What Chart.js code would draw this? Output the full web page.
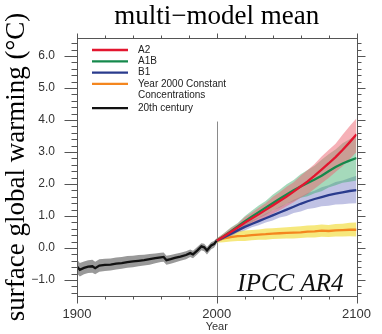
<!DOCTYPE html>
<html><head><meta charset="utf-8">
<script src="https://cdn.jsdelivr.net/npm/chart.js@4.4.1/dist/chart.umd.min.js"></script>
<style>html,body{margin:0;padding:0;background:#fff;}#wrap{width:382px;height:334px;}</style>
</head><body><div id="wrap"><canvas id="c" width="382" height="334"></canvas></div>
<script>
// ---------- data ----------
const seriesNames = ['A2', 'A1B', 'B1', ['Year 2000 Constant', 'Concentrations'], '20th century'];
const xTickLabels = [1900, 2000, 2100];
const yTickLabels = [-1, 0, 1, 2, 3, 4, 5, 6];
const chartTitle = 'multi\u2212model mean';
const yTitle = 'surface global warming (\u00B0C)';
const xTitle = 'Year';
const stampText = 'IPCC AR4';

const histYears = [1900,1902,1905,1908,1911,1913,1916,1920,1924,1928,1932,1936,1940,1944,1948,1952,1956,1960,1962,1964,1967,1970,1974,1978,1981,1983,1986,1989,1991,1993,1996,1998,2000];
const histMean = [-0.58,-0.68,-0.62,-0.58,-0.57,-0.63,-0.55,-0.53,-0.52,-0.49,-0.47,-0.44,-0.42,-0.40,-0.38,-0.35,-0.32,-0.29,-0.28,-0.38,-0.35,-0.31,-0.27,-0.22,-0.16,-0.20,-0.08,0.05,0.02,-0.08,0.08,0.12,0.23];
const histHigh = [-0.36,-0.47,-0.42,-0.38,-0.37,-0.43,-0.35,-0.34,-0.33,-0.30,-0.28,-0.25,-0.24,-0.22,-0.21,-0.19,-0.17,-0.15,-0.14,-0.24,-0.22,-0.19,-0.15,-0.10,-0.05,-0.09,0.03,0.15,0.13,0.03,0.18,0.22,0.31];
const histLow = [-0.80,-0.89,-0.82,-0.78,-0.77,-0.82,-0.74,-0.72,-0.70,-0.67,-0.65,-0.62,-0.60,-0.57,-0.55,-0.52,-0.48,-0.44,-0.43,-0.52,-0.49,-0.45,-0.40,-0.35,-0.28,-0.32,-0.20,-0.07,-0.10,-0.20,-0.04,0.01,0.14];

const futureYears = [2000,2005,2010,2015,2020,2025,2030,2035,2040,2045,2050,2055,2060,2065,2070,2075,2080,2085,2090,2095,2100];
const a2Mean = [0.23,0.36,0.50,0.64,0.79,0.92,1.05,1.19,1.33,1.47,1.61,1.76,1.92,2.08,2.26,2.45,2.64,2.84,3.06,3.30,3.55];
const a2High = [0.30,0.45,0.62,0.76,0.96,1.10,1.26,1.40,1.59,1.74,1.91,2.05,2.26,2.44,2.62,2.86,3.06,3.26,3.54,3.80,4.05];
const a2Low  = [0.16,0.27,0.39,0.50,0.62,0.73,0.84,0.96,1.07,1.18,1.30,1.43,1.57,1.69,1.85,2.02,2.19,2.37,2.55,2.77,3.00];
const a1bMean = [0.23,0.37,0.52,0.67,0.83,0.98,1.12,1.26,1.40,1.54,1.67,1.80,1.92,2.03,2.14,2.26,2.40,2.53,2.64,2.73,2.81];
const a1bHigh = [0.30,0.46,0.64,0.78,0.99,1.16,1.33,1.47,1.66,1.82,1.99,2.12,2.30,2.44,2.57,2.76,2.93,3.08,3.27,3.40,3.51];
const a1bLow  = [0.16,0.28,0.43,0.54,0.70,0.80,0.94,1.03,1.17,1.26,1.38,1.46,1.57,1.62,1.71,1.77,1.89,1.96,2.04,2.07,2.11];
const b1Mean = [0.23,0.33,0.44,0.55,0.66,0.75,0.84,0.93,1.02,1.11,1.20,1.29,1.38,1.46,1.53,1.59,1.65,1.70,1.74,1.78,1.81];
const b1High = [0.29,0.40,0.50,0.64,0.75,0.87,0.95,1.08,1.16,1.29,1.38,1.51,1.60,1.72,1.79,1.90,1.96,2.06,2.11,2.19,2.26];
const b1Low  = [0.17,0.28,0.36,0.48,0.55,0.65,0.71,0.80,0.86,0.95,1.00,1.09,1.14,1.22,1.25,1.30,1.32,1.36,1.37,1.39,1.40];
const constMean = [0.23,0.30,0.34,0.37,0.38,0.40,0.42,0.43,0.45,0.46,0.47,0.48,0.49,0.51,0.52,0.54,0.53,0.55,0.56,0.57,0.57];
const constHigh = [0.30,0.42,0.48,0.52,0.55,0.56,0.58,0.61,0.62,0.63,0.65,0.66,0.68,0.70,0.71,0.73,0.72,0.75,0.76,0.79,0.80];
const constLow  = [0.16,0.18,0.20,0.22,0.22,0.24,0.26,0.26,0.28,0.29,0.30,0.30,0.31,0.33,0.33,0.35,0.34,0.36,0.36,0.37,0.36];

const dividerYear = 2000;
const dividerTop = 3.95;

// ---------- styles ----------
const lineColors = ['#e3162f', '#15894c', '#2a3b8d', '#f4861f', '#111111'];
const bandColors = ['rgba(238,100,112,0.50)', 'rgba(55,170,105,0.45)', 'rgba(115,120,195,0.45)', 'rgba(242,222,70,0.70)', 'rgba(135,135,135,0.85)'];
const SANS = '"Liberation Sans", Arial, sans-serif';
const SERIF = '"Liberation Serif", "Times New Roman", serif';

const pts = (xs, ys) => xs.map((x, i) => ({x: x, y: ys[i]}));
function lineDs(label, xs, ys, color) {
  return {label: label, data: pts(xs, ys), borderColor: color, backgroundColor: color, borderWidth: 2.3,
          pointRadius: 0, tension: 0, fill: false, isLegend: true};
}
function bandDs(xs, ys, color, fill) {
  return {data: pts(xs, ys), borderColor: 'rgba(0,0,0,0)', backgroundColor: color, borderWidth: 0,
          pointRadius: 0, tension: 0, fill: fill};
}

const datasets = [
  lineDs(seriesNames[0], futureYears, a2Mean, lineColors[0]),
  lineDs(seriesNames[1], futureYears, a1bMean, lineColors[1]),
  lineDs(seriesNames[2], futureYears, b1Mean, lineColors[2]),
  lineDs(seriesNames[3], futureYears, constMean, lineColors[3]),
  lineDs(seriesNames[4], histYears, histMean, lineColors[4]),
  bandDs(futureYears, a2High, bandColors[0], '+1'),
  bandDs(futureYears, a2Low, bandColors[0], false),
  bandDs(futureYears, a1bHigh, bandColors[1], '+1'),
  bandDs(futureYears, a1bLow, bandColors[1], false),
  bandDs(futureYears, b1High, bandColors[2], '+1'),
  bandDs(futureYears, b1Low, bandColors[2], false),
  bandDs(futureYears, constHigh, bandColors[3], '+1'),
  bandDs(futureYears, constLow, bandColors[3], false),
  bandDs(histYears, histHigh, bandColors[4], '+1'),
  bandDs(histYears, histLow, bandColors[4], false)
];

const xMinorStep = 20, yMinorStep = 0.2;
const frameColor = '#555';

const decor = {
  id: 'decor',
  beforeDatasetsDraw(chart) {
    const {ctx, chartArea: a, scales: {x, y}} = chart;
    ctx.save();
    ctx.strokeStyle = '#8a8a8a';
    ctx.lineWidth = 1;
    const px = Math.round(x.getPixelForValue(dividerYear)) + 0.5;
    ctx.beginPath();
    ctx.moveTo(px, y.getPixelForValue(dividerTop));
    ctx.lineTo(px, a.bottom);
    ctx.stroke();
    ctx.restore();
  },
  afterDatasetsDraw(chart) {
    const {ctx, chartArea: a, scales: {x, y}} = chart;
    ctx.save();
    ctx.strokeStyle = frameColor;
    ctx.lineWidth = 1;
    const L = Math.round(a.left) + 0.5, R = Math.round(a.right) + 0.5;
    const T = Math.round(a.top) + 0.5, B = Math.round(a.bottom) + 0.5;
    ctx.strokeRect(L, T, R - L, B - T);
    ctx.beginPath();
    for (let v = x.min; v <= x.max + 1e-6; v += xMinorStep) {
      const p = Math.round(x.getPixelForValue(v)) + 0.5;
      const major = xTickLabels.includes(Math.round(v));
      ctx.moveTo(p, B); ctx.lineTo(p, B + (major ? 7 : 3));
      ctx.moveTo(p, T); ctx.lineTo(p, T - (major ? 5 : 3));
    }
    const start = Math.ceil(y.min / yMinorStep - 1e-6);
    const end = Math.floor(y.max / yMinorStep + 1e-6);
    for (let k = start; k <= end; k++) {
      const v = k * yMinorStep;
      const p = Math.round(y.getPixelForValue(v)) + 0.5;
      const major = Math.abs(v - Math.round(v)) < 1e-6;
      ctx.moveTo(L, p); ctx.lineTo(L - (major ? 13 : 6), p);
      ctx.moveTo(R, p); ctx.lineTo(R + (major ? 8 : 4), p);
    }
    ctx.stroke();
    ctx.restore();
  },
  afterDraw(chart) {
    const {ctx, chartArea: a} = chart;
    ctx.save();
    const lx0 = a.left + 15, lx1 = a.left + 51, tx = a.left + 61;
    let yy = a.top + 12;
    ctx.font = '10px ' + SANS;
    ctx.textBaseline = 'middle';
    ctx.textAlign = 'left';
    chart.data.datasets.filter(d => d.isLegend).forEach(d => {
      ctx.strokeStyle = d.borderColor;
      ctx.lineWidth = 2.3;
      ctx.beginPath(); ctx.moveTo(lx0, yy); ctx.lineTo(lx1, yy); ctx.stroke();
      ctx.fillStyle = '#222';
      const lines = Array.isArray(d.label) ? d.label : [d.label];
      lines.forEach((t, i) => ctx.fillText(t, tx, yy + i * 11));
      yy += 11.3 + (lines.length - 1) * 13;
    });
    ctx.font = 'italic 25px ' + SERIF;
    ctx.fillStyle = '#111';
    ctx.textAlign = 'right';
    ctx.textBaseline = 'alphabetic';
    ctx.fillText(stampText, a.right - 13, a.bottom - 5);
    ctx.restore();
  }
};

const fmt = v => (v < 0 ? '\u2212' : '') + Math.abs(v).toFixed(1);

new Chart(document.getElementById('c'), {
  type: 'line',
  data: {datasets: datasets},
  options: {
    responsive: false,
    devicePixelRatio: 1,
    animation: false,
    layout: {padding: {left: 0, right: 15, top: 0, bottom: 0}},
    plugins: {
      legend: {display: false},
      tooltip: {enabled: false},
      title: {display: true, text: chartTitle, fullSize: false, color: '#000',
              font: {family: SERIF, size: 27, weight: 'normal', lineHeight: 1.2},
              padding: {top: 1, bottom: 4.6}}
    },
    scales: {
      x: {
        type: 'linear', min: 1900, max: 2100, position: 'bottom',
        grid: {display: false, drawTicks: false}, border: {display: false},
        afterBuildTicks: s => { s.ticks = xTickLabels.map(v => ({value: v})); },
        afterFit: s => { s.height = 38; },
        ticks: {color: '#333', padding: 11, maxRotation: 0, autoSkip: false,
                font: {family: SANS, size: 13, lineHeight: 1.2}, callback: v => String(v)},
        title: {display: true, text: xTitle, color: '#333', padding: {top: 0, bottom: 0},
                font: {family: SANS, size: 11, lineHeight: 1.2}}
      },
      y: {
        type: 'linear', min: -1.5, max: 6.56, position: 'left',
        grid: {display: false, drawTicks: false}, border: {display: false},
        afterBuildTicks: s => { s.ticks = yTickLabels.map(v => ({value: v})); },
        afterFit: s => { s.width = 77; },
        ticks: {color: '#333', padding: 22, autoSkip: false,
                font: {family: SANS, size: 12, lineHeight: 1.2}, callback: v => fmt(v)},
        title: {display: true, text: yTitle, color: '#000', padding: {top: 1, bottom: 0},
                font: {family: SERIF, size: 27, lineHeight: 1.2}}
      }
    }
  },
  plugins: [decor]
});
</script>
</body></html>
